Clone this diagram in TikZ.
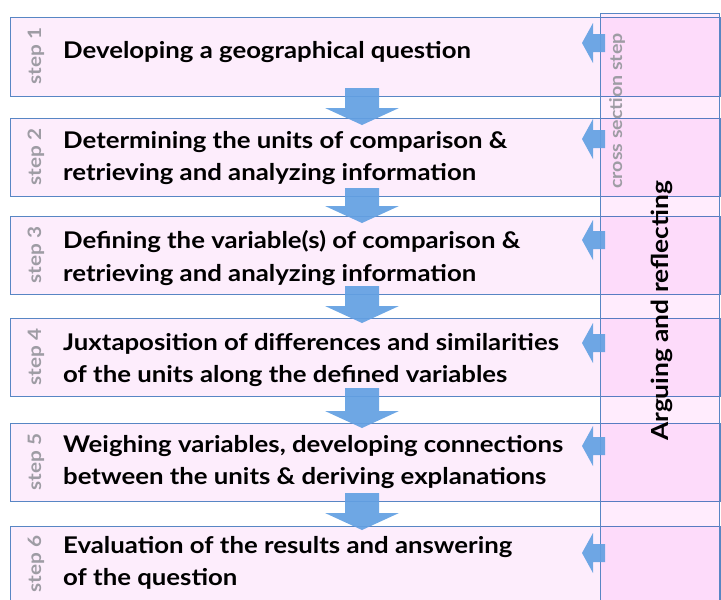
\documentclass[tikz,border=0pt]{standalone}
\usepackage{fontspec}
\setmainfont{Lato}[FakeStretch=1.12]
\usepackage{tikz}
\usetikzlibrary{positioning}
\definecolor{boxline}{RGB}{88,134,196}
\definecolor{boxpink}{RGB}{253,237,252}
\definecolor{colpink}{RGB}{255,236,253}
\definecolor{arrowblue}{RGB}{98,160,226}
\definecolor{stepgray}{RGB}{158,156,164}
\tikzset{stepbox/.style={draw=boxline,fill=boxpink,line width=.7pt},
steptitle/.style={anchor=west,align=left,inner sep=0pt,font=\fontsize{23}{32.5}\selectfont\bfseries},
steplabel/.style={rotate=90,text=stepgray,inner sep=0pt,font=\fontsize{18.5}{18.5}\selectfont\bfseries},
downarrow/.style={fill=arrowblue,fill opacity=.92},
backarrow/.style={fill=arrowblue,fill opacity=.92}}

\begin{document}
\begin{tikzpicture}[x=1pt,y=-1pt]
\useasboundingbox (0,0) rectangle (721,600);
\clip (0,0) rectangle (721,600);
%the six step boxes
\draw[stepbox] (10,17) rectangle (720,96);
\draw[stepbox] (10,118) rectangle (720,196);
\draw[stepbox] (10,216) rectangle (720,294);
\draw[stepbox] (10,318) rectangle (720,396);
\draw[stepbox] (10,423) rectangle (720,501);
\draw[stepbox] (10,526) rectangle (720,606);
%cross section column over the boxes
\begin{scope}[blend mode=multiply]
\fill[colpink] (600,13) rectangle (719,610);
\end{scope}
\draw[boxline,line width=.7pt] (600,610) -- (600,13) -- (719,13) -- (719,610);
%step labels
\node[steplabel] (s1) at (36,56) {step 1};
\node[steplabel] (s2) at (36,157) {step 2};
\node[steplabel] (s3) at (36,255) {step 3};
\node[steplabel] (s4) at (36,357) {step 4};
\node[steplabel] (s5) at (36,462) {step 5};
\node[steplabel] (s6) at (36,564) {step 6};
%step titles
\node[steptitle] (t1) at (63,52) {Developing a geographical question};
\node[steptitle] (t2) at (63,158) {Determining the units of comparison \&\\retrieving and analyzing information};
\node[steptitle] (t3) at (63,258) {Defining the variable(s) of comparison \&\\retrieving and analyzing information};
\node[steptitle] (t4) at (63,360) {Juxtaposition of differences and similarities\\of the units along the defined variables};
\node[steptitle] (t5) at (63,462) {Weighing variables, developing connections\\between the units \& deriving explanations};
\node[steptitle] (t6) at (63,563) {Evaluation of the results and answering\\of the question};
%down arrows between the steps
\fill[downarrow] (345,88) -- (379,88) -- (379,108) -- (399,108) -- (362,125) -- (325,108) -- (345,108) -- cycle;
\fill[downarrow] (345,188) -- (379,188) -- (379,206) -- (399,206) -- (362,223) -- (325,206) -- (345,206) -- cycle;
\fill[downarrow] (345,286) -- (379,286) -- (379,306) -- (399,306) -- (362,323) -- (325,306) -- (345,306) -- cycle;
\fill[downarrow] (345,388) -- (379,388) -- (379,411) -- (399,411) -- (362,428) -- (325,411) -- (345,411) -- cycle;
\fill[downarrow] (345,493) -- (379,493) -- (379,513) -- (399,513) -- (362,530) -- (325,513) -- (345,513) -- cycle;
%arrows back from the cross section column
\fill[backarrow] (605,34) -- (605,52) -- (593,52) -- (593,63) -- (582,43) -- (593,23) -- (593,34) -- cycle;
\fill[backarrow] (605,130) -- (605,148) -- (593,148) -- (593,159) -- (582,139) -- (593,119) -- (593,130) -- cycle;
\fill[backarrow] (605,231) -- (605,249) -- (593,249) -- (593,260) -- (582,240) -- (593,220) -- (593,231) -- cycle;
\fill[backarrow] (605,334) -- (605,352) -- (593,352) -- (593,363) -- (582,343) -- (593,323) -- (593,334) -- cycle;
\fill[backarrow] (605,437) -- (605,455) -- (593,455) -- (593,466) -- (582,446) -- (593,426) -- (593,437) -- cycle;
\fill[backarrow] (605,544) -- (605,562) -- (593,562) -- (593,573) -- (582,553) -- (593,533) -- (593,544) -- cycle;
%column texts
\node[steplabel,font=\fontsize{17.5}{17.5}\selectfont\bfseries] (cross) at (617,111) {cross section step};
\node[rotate=90,inner sep=0pt,font=\fontsize{23.5}{23.5}\selectfont\bfseries] (argue) at (662,311) {Arguing and reflecting};
\end{tikzpicture}
\end{document}
